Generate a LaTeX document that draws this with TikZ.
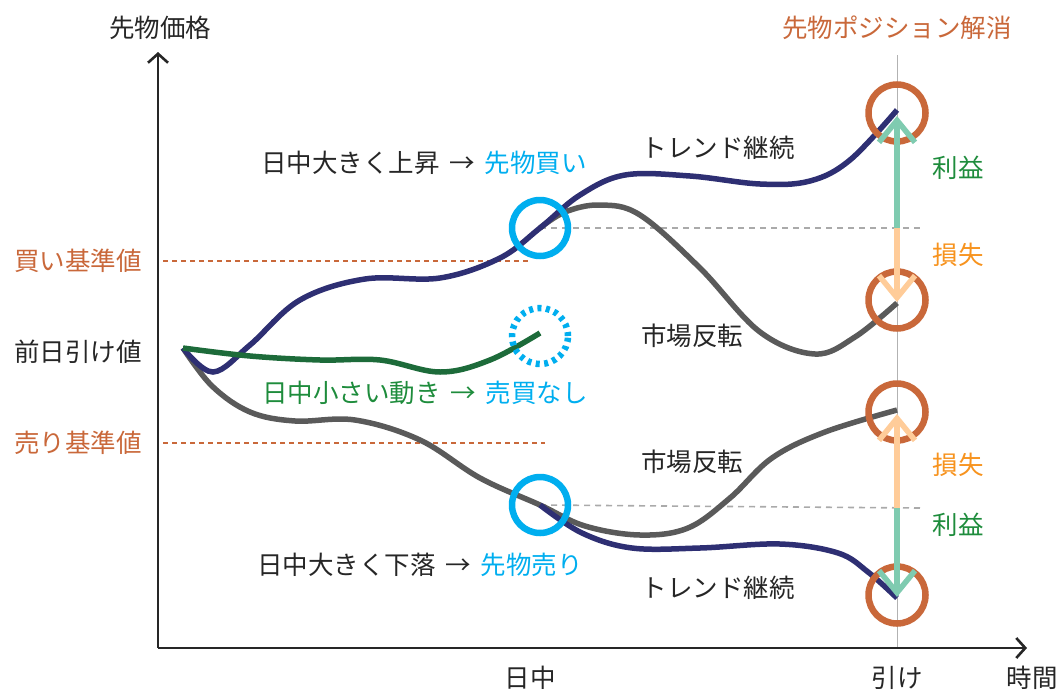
\documentclass[tikz,border=0pt]{standalone}
\usepackage{fontspec}
\setmainfont{Noto Sans CJK JP}
\usetikzlibrary{arrows.meta,positioning}
\definecolor{trendnavy}{HTML}{2E2F73}
\definecolor{revgray}{HTML}{5A5A5A}
\definecolor{flatgreen}{HTML}{1D6B3A}
\definecolor{tradeblue}{HTML}{00AEEF}
\definecolor{closeorange}{HTML}{C9683A}
\definecolor{gainmint}{HTML}{7FCBB0}
\definecolor{losspeach}{HTML}{FFCC99}
\definecolor{gaintext}{HTML}{1E8C3C}
\definecolor{losstext}{HTML}{F7931E}
\definecolor{dashgray}{HTML}{AAAAAA}
\tikzset{
    % Text
    every node/.style={font=\fontsize{25.5}{30}\selectfont, text=black!85, inner sep=0pt},
    %
    % Axes
    axis/.style={line width=2.6pt, black!85, -{Straight Barb[length=9pt,width=20pt]}},
    closing line/.style={line width=0.8pt, black!30},
    %
    % Price paths
    path line/.style={line width=5.5pt, line cap=butt},
    trend/.style={path line, trendnavy},
    reversal/.style={path line, revgray},
    flat/.style={path line, flatgreen},
    %
    % Levels
    level line/.style={line width=1.6pt, closeorange, dash pattern=on 5pt off 4pt},
    entry level/.style={line width=1.6pt, dashgray, dash pattern=on 6pt off 5pt},
    %
    % Markers
    entry ring/.style={circle, draw=tradeblue, line width=6.5pt, minimum size=56pt},
    idle ring/.style={entry ring, dash pattern=on 4pt off 4.5pt},
    exit ring/.style={circle, draw=closeorange, line width=6.5pt, minimum size=57pt},
    %
    % Profit and loss arrows
    pnl/.style={line width=5.5pt, -{Straight Barb[length=22pt,width=36pt]}},
    gain/.style={pnl, gainmint},
    loss/.style={pnl, losspeach}
}
\begin{document}
\begin{tikzpicture}[x=1pt,y=-1pt]
    \useasboundingbox (0,0) rectangle (1063,691);
    % axes and closing time
    \coordinate (origin) at (158,648);
    \coordinate (ytop) at (158,52);
    \coordinate (xend) at (1027,648);
    \coordinate (closetop) at (897,55);
    \coordinate (closebot) at (897,648);
    \draw[closing line] (closetop) -- (closebot);
    \draw[axis] (origin) -- (ytop);
    \draw[axis] (origin) -- (xend);
    \node (ylab) at (160,28) {先物価格};
    \node (xlab) at (1032,678) {時間};
    \node (midday) at (530,678) {日中};
    \node (closing) at (897,678) {引け};
    \node[text=closeorange] (unwind) at (897,28) {先物ポジション解消};
    % reference levels
    \coordinate (buylvl) at (163,261);
    \coordinate (buylvlend) at (530,261);
    \coordinate (selllvl) at (163,443);
    \coordinate (selllvlend) at (545,443);
    \draw[level line] (buylvl) -- (buylvlend);
    \draw[level line] (selllvl) -- (selllvlend);
    \node[text=closeorange] (buylab) at (78,261) {買い基準値};
    \node (prevlab) at (78,352) {前日引け値};
    \node[text=closeorange] (selllab) at (78,443) {売り基準値};
    % entry levels
    \coordinate (longin) at (540,228);
    \coordinate (shortin) at (540,505);
    \coordinate (longmid) at (920,228);
    \coordinate (shortmid) at (920,508);
    \draw[entry level] (longin) -- (longmid);
    \draw[entry level] (shortin) -- (shortmid);
    % price paths
    \draw[reversal] plot[smooth, tension=0.6] coordinates {(540,228) (565,212) (600,205) (640,215) (700,268) (760,332) (815,354) (855,337) (897,303)};
    \draw[reversal] plot[smooth, tension=0.6] coordinates {(183,348) (212,386) (250,412) (295,421) (355,420) (420,440) (480,478) (540,505) (585,526) (640,535) (688,528) (730,498) (772,458) (825,432) (897,410)};
    \draw[trend] plot[smooth, tension=0.6] coordinates {(183,348) (213,372) (250,345) (300,300) (365,279) (440,278) (500,258) (540,228) (580,195) (625,175) (690,176) (760,184) (810,181) (850,160) (897,110)};
    \draw[trend] plot[smooth, tension=0.6] coordinates {(540,505) (582,533) (632,548) (700,548) (780,544) (838,553) (868,572) (897,598)};
    \draw[flat] plot[smooth, tension=0.6] coordinates {(183,348) (250,356) (320,360) (380,360) (440,372) (490,360) (540,333)};
    % entry and exit markers
    \node[entry ring] (buyring) at (540,228) {};
    \node[idle ring] (idlering) at (540,336) {};
    \node[entry ring] (sellring) at (540,505) {};
    \node[exit ring] (exitA) at (897,113) {};
    \node[exit ring] (exitB) at (897,300) {};
    \node[exit ring] (exitC) at (897,412) {};
    \node[exit ring] (exitD) at (897,595) {};
    % profit and loss
    \coordinate (gaintipA) at (897,116);
    \coordinate (losstipA) at (897,302);
    \coordinate (losstipB) at (897,414);
    \coordinate (gaintipB) at (897,597);
    \coordinate (longbase) at (897,228);
    \coordinate (shortbase) at (897,508);
    \draw[gain] (longbase) -- (gaintipA);
    \draw[loss] (longbase) -- (losstipA);
    \draw[loss] (shortbase) -- (losstipB);
    \draw[gain] (shortbase) -- (gaintipB);
    \node[text=gaintext] (gainA) at (958,168) {利益};
    \node[text=losstext] (lossA) at (958,255) {損失};
    \node[text=losstext] (lossB) at (958,465) {損失};
    \node[text=gaintext] (gainB) at (958,525) {利益};
    % path labels
    \node (trendA) at (718,148) {トレンド継続};
    \node (revA) at (692,336) {市場反転};
    \node (revB) at (692,462) {市場反転};
    \node (trendB) at (718,588) {トレンド継続};
    \node (uplab) at (424,163) {日中大きく上昇 \,→\, \textcolor{tradeblue}{先物買い}};
    \node[text=gaintext] (flatlab) at (425,393) {日中小さい動き \,→\, \textcolor{tradeblue}{売買なし}};
    \node (downlab) at (420,565) {日中大きく下落 \,→\, \textcolor{tradeblue}{先物売り}};
\end{tikzpicture}
\end{document}
